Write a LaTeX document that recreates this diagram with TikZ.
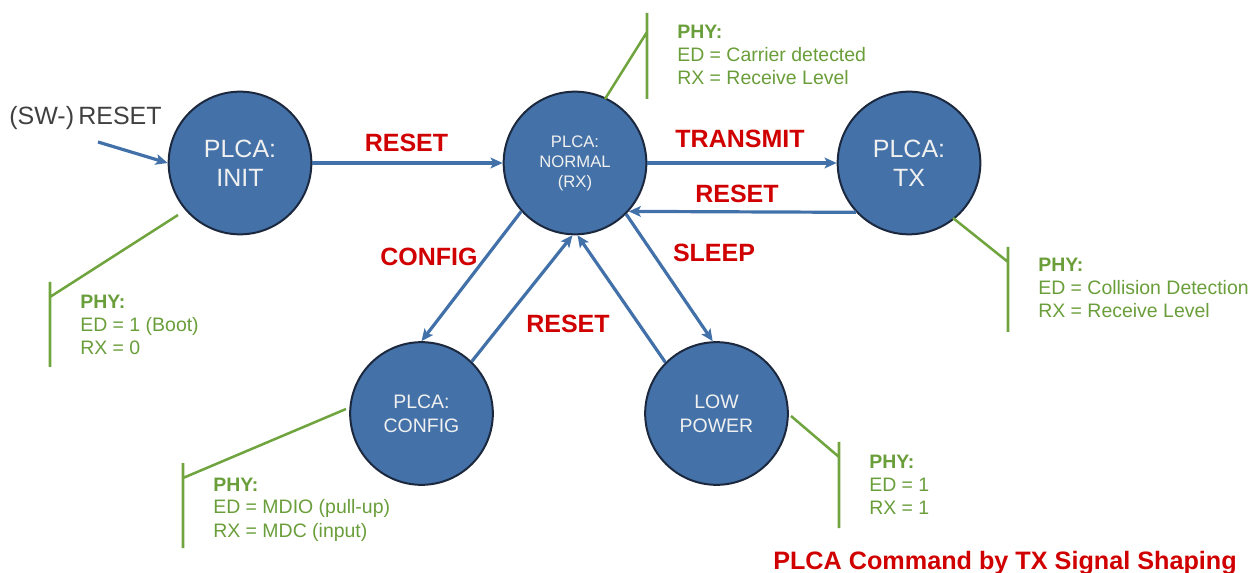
\documentclass[tikz,border=0pt]{standalone}
\usepackage{fontspec}
\setmainfont{Liberation Sans}
\usetikzlibrary{arrows.meta}
\definecolor{stfill}{RGB}{68,114,168}
\definecolor{stborder}{RGB}{27,40,62}
\definecolor{arrblue}{RGB}{66,113,170}
\definecolor{lblred}{RGB}{208,0,0}
\definecolor{phygreen}{RGB}{112,164,62}
\definecolor{phytext}{RGB}{106,158,58}
\definecolor{swgray}{RGB}{64,64,64}
\tikzset{
  state/.style={circle, fill=stfill, draw=stborder, line width=1.5pt, minimum size=107pt, inner sep=0pt, text=white!94!black, align=center},
  bigtxt/.style={font=\fontsize{18.75pt}{21.75pt}\selectfont},
  midtxt/.style={font=\fontsize{14.6pt}{18pt}\selectfont},
  smalltxt/.style={font=\fontsize{12.5pt}{15pt}\selectfont},
  trans/.style={draw=arrblue, line width=2.4pt, -{Stealth[length=9pt,width=8pt,inset=2pt]}},
  evlabel/.style={text=lblred, font=\bfseries\fontsize{18.75pt}{22pt}\selectfont, inner sep=0pt, anchor=base},
  callout/.style={draw=phygreen, line width=1.9pt},
  phy/.style={text=phytext, font=\fontsize{14.6pt}{17.25pt}\selectfont, align=left, inner sep=0pt, anchor=base west},
}
\begin{document}
\begin{tikzpicture}[x=0.75pt,y=-0.75pt]
\useasboundingbox (0,0) rectangle (1253,573);

% states
\node[state,bigtxt] (init) at (240,163) {PLCA:\\INIT};
\node[state,smalltxt] (normal) at (575,163) {PLCA:\\NORMAL\\(RX)};
\node[state,bigtxt] (tx) at (909,163) {PLCA:\\TX};
\node[state,midtxt] (config) at (421.5,413.5) {PLCA:\\CONFIG};
\node[state,midtxt] (low) at (716.5,413.5) {LOW\\POWER};

% external reset
\node[text=swgray, font=\fontsize{18.75pt}{22pt}\selectfont, inner sep=0pt, anchor=base] (swlbl) at (85.5,125) {(SW-)\,RESET};
\coordinate (swstart) at (98,142);
\draw[trans] (swstart) -- (init.west);

% transitions
\draw[trans] (init) -- (normal);
\draw[trans] (normal) -- (tx);
\draw[trans] (tx.-137.1) -- (normal.-42.9);
\draw[trans] (normal.222) -- (config.90);
\draw[trans] (config.46) -- (normal.268);
\draw[trans] (low.135) -- (normal.272);
\draw[trans] (normal.-45) -- (low.93);

% event labels
\node[evlabel] (lreset1) at (406.5,152) {RESET};
\node[evlabel] (ltransmit) at (740,148) {TRANSMIT};
\node[evlabel] (lreset2) at (737,203) {RESET};
\node[evlabel] (lconfig) at (429,266) {CONFIG};
\node[evlabel] (lreset3) at (568,333) {RESET};
\node[evlabel] (lsleep) at (714,262) {SLEEP};

% PHY callouts (node anchored at the baseline of its last line)
\coordinate (c1a) at (178,215); \coordinate (c1b) at (50,297);
\coordinate (c1t) at (50,282); \coordinate (c1u) at (50,367);
\draw[callout] (c1a) -- (c1b) (c1t) -- (c1u);
\node[phy] (phy1) at (80,355) {\textbf{PHY:}\\ED = 1 (Boot)\\RX = 0};

\coordinate (c2a) at (605,99); \coordinate (c2b) at (647,32);
\coordinate (c2t) at (647,13); \coordinate (c2u) at (647,99);
\draw[callout] (c2a) -- (c2b) (c2t) -- (c2u);
\node[phy] (phy2) at (677,85) {\textbf{PHY:}\\ED = Carrier detected\\RX = Receive Level};

\coordinate (c3a) at (953,218); \coordinate (c3b) at (1008,262);
\coordinate (c3t) at (1008,247); \coordinate (c3u) at (1008,332);
\draw[callout] (c3a) -- (c3b) (c3t) -- (c3u);
\node[phy] (phy3) at (1038,318) {\textbf{PHY:}\\ED = Collision Detection\\RX = Receive Level};

\coordinate (c4a) at (346,409); \coordinate (c4b) at (183,478);
\coordinate (c4t) at (183,463); \coordinate (c4u) at (183,548);
\draw[callout] (c4a) -- (c4b) (c4t) -- (c4u);
\node[phy] (phy4) at (213,537) {\textbf{PHY:}\\ED = MDIO (pull-up)\\RX = MDC (input)};

\coordinate (c5a) at (791,416); \coordinate (c5b) at (839,457);
\coordinate (c5t) at (839,442); \coordinate (c5u) at (839,528);
\draw[callout] (c5a) -- (c5b) (c5t) -- (c5u);
\node[phy] (phy5) at (869,514) {\textbf{PHY:}\\ED = 1\\RX = 1};

% title
\node[evlabel, font=\bfseries\fontsize{18.9pt}{22pt}\selectfont] (title) at (1005,569) {PLCA Command by TX Signal Shaping};
\end{tikzpicture}
\end{document}
